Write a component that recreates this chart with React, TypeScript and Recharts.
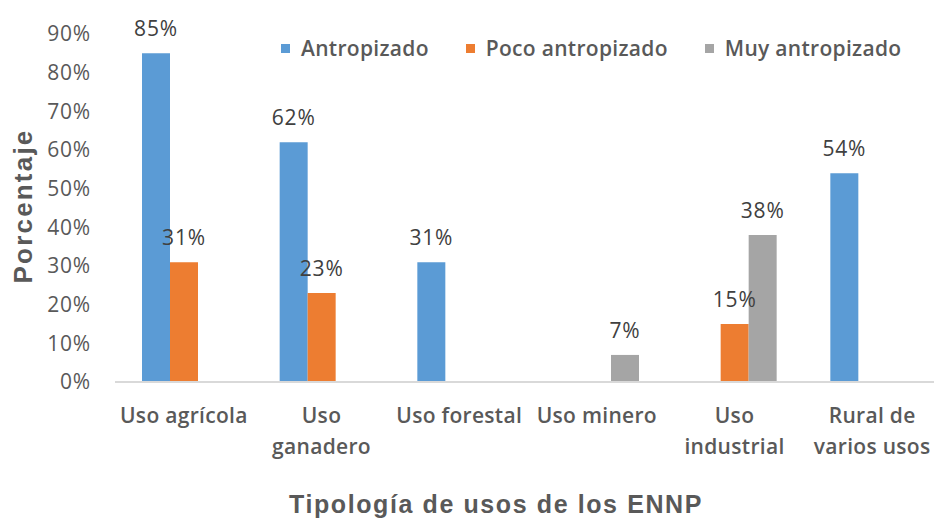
import { BarChart, Bar, XAxis, YAxis, LabelList } from 'recharts'

const categories = ['Uso agrícola', 'Uso\nganadero', 'Uso forestal', 'Uso minero', 'Uso\nindustrial', 'Rural de\nvarios usos']
const antropizado = [85, 62, 31, null, null, 54]
const pocoAntropizado = [31, 23, null, null, 15, null]
const muyAntropizado = [null, null, null, 7, 38, null]
const yTicks = [0, 10, 20, 30, 40, 50, 60, 70, 80, 90]

const series = [
  { key: 'antropizado', name: 'Antropizado', color: '#5B9BD5' },
  { key: 'poco', name: 'Poco antropizado', color: '#ED7D31' },
  { key: 'muy', name: 'Muy antropizado', color: '#A5A5A5' },
]

const data = categories.map((c, i) => ({
  name: c,
  antropizado: antropizado[i],
  poco: pocoAntropizado[i],
  muy: muyAntropizado[i],
}))

const tickFont = '"Open Sans", "Noto Sans", sans-serif'
const titleFont = '"Liberation Sans", Arial, sans-serif'

function CategoryTick({ x, y, payload }: any) {
  const lines = String(payload.value).split('\n')
  return (
    <text x={x} y={y + 39} textAnchor="middle" fill="#595959" fontSize={21} fontWeight={600} letterSpacing={0.3} fontFamily={tickFont}>
      {lines.map((l, i) => (
        <tspan key={i} x={x} dy={i === 0 ? 0 : 31}>{l}</tspan>
      ))}
    </text>
  )
}

// legend drawn as html so it doesn't eat into the plot area
function LegendBox() {
  return (
    <div style={{ position: 'absolute', left: 281, top: 34, display: 'flex', whiteSpace: 'nowrap', width: 700, fontFamily: tickFont, fontSize: 21, fontWeight: 600, letterSpacing: 0.3, color: '#595959', lineHeight: '28px' }}>
      {series.map(s => (
        <div key={s.key} style={{ display: 'flex', alignItems: 'center', marginRight: 37, flexShrink: 0 }}>
          <span style={{ width: 9, height: 9, background: s.color, marginRight: 11, display: 'inline-block' }} />
          <span>{s.name}</span>
        </div>
      ))}
    </div>
  )
}

const pct = (v: any) => (v == null ? '' : `${v}%`)

export default function App() {
  return (
    <div style={{ position: 'absolute', left: 0, top: 0, width: 934, height: 521, overflow: 'hidden', background: '#fff' }}>
      <BarChart
        width={950}
        height={521}
        data={data}
        margin={{ top: 34, right: 9, bottom: 39, left: 0 }}
        barGap={0}
        barSize={28}
      >
        <XAxis
          dataKey="name"
          tick={<CategoryTick />}
          tickLine={false}
          axisLine={{ stroke: '#D9D9D9', strokeWidth: 2 }}
          tickSize={0}
          height={100}
          interval={0}
          label={{
            content: () => (
              <text x={496} y={513} textAnchor="middle" fill="#595959" fontSize={25} fontWeight={700} letterSpacing={1.6} fontFamily={titleFont}>
                Tipología de usos de los ENNP
              </text>
            ),
          }}
        />
        <YAxis
          domain={[0, 90]}
          ticks={yTicks}
          tickFormatter={(v: number) => `${v}%`}
          tick={{ fill: '#595959', fontSize: 21, fontFamily: tickFont, letterSpacing: 0.8 }}
          tickLine={false}
          axisLine={false}
          tickSize={0}
          tickMargin={24}
          width={115}
          label={{
            content: () => (
              <text x={23} y={206} transform="rotate(-90 23 206)" textAnchor="middle" dominantBaseline="central" fill="#595959" fontSize={26} fontWeight={700} letterSpacing={2.2} fontFamily={titleFont}>
                Porcentaje
              </text>
            ),
          }}
        />
        {series.map(s => (
          <Bar key={s.key} dataKey={s.key} name={s.name} fill={s.color} isAnimationActive={false}>
            <LabelList dataKey={s.key} position="top" offset={17} formatter={pct} fill="#404040" fontSize={21} letterSpacing={0.8} fontFamily={tickFont} />
          </Bar>
        ))}
      </BarChart>
      <LegendBox />
    </div>
  )
}
